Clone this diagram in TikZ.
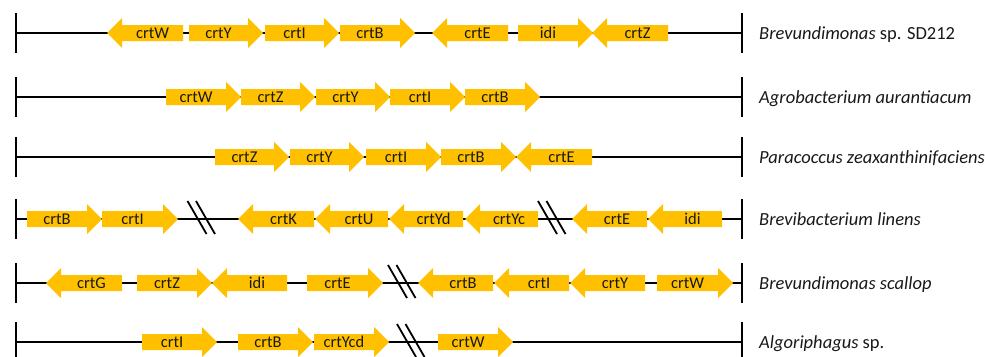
\documentclass[tikz,border=0pt]{standalone}
\usepackage{fontspec}
\setmainfont{Carlito}
\definecolor{genegold}{HTML}{FFC000}
\tikzset{
  backbone/.style={line width=2pt, black},
  endbar/.style={line width=2.5pt, black},
  brkline/.style={line width=1.8pt, black},
  genelabel/.style={font=\fontsize{16.5}{20}\selectfont, inner sep=0pt, anchor=base, text=black!90},
  species/.style={font=\fontsize{18.5}{22}\selectfont, inner sep=0pt, anchor=base west, text=black!90},
}
% right-pointing gene: name, tail x, tip x, y, label
\newcommand\geneR[5]{%
  \fill[genegold] (#2,#4-8) -- (#3-15,#4-8) -- (#3-15,#4-15) -- (#3,#4) -- (#3-15,#4+15) -- (#3-15,#4+8) -- (#2,#4+8) -- cycle;
  \node[genelabel] (#1) at ({(#2+#3-15)/2},{#4+5.5}) {#5};}
% left-pointing gene: name, tip x, tail x, y, label
\newcommand\geneL[5]{%
  \fill[genegold] (#3,#4-8) -- (#2+15,#4-8) -- (#2+15,#4-15) -- (#2,#4) -- (#2+15,#4+15) -- (#2+15,#4+8) -- (#3,#4+8) -- cycle;
  \node[genelabel] (#1) at ({(#2+15+#3)/2},{#4+5.5}) {#5};}
% chromosome line: name, y, species label
\newcommand\chrom[3]{%
  \coordinate (#1L) at (16,#2);
  \coordinate (#1R) at (742,#2);
  \draw[backbone] (#1L) -- (#1R);
  \draw[endbar] (16,#2-20) -- (16,#2+19.5);
  \draw[endbar] (742,#2-20) -- (742,#2+19.5);
  \node[species] (#1S) at (759,{#2+6}) {#3};}
% break mark: name, x, y
\newcommand\brk[3]{%
  \coordinate (#1) at (#2,#3);
  \draw[brkline] (#2-14,#3-18) -- (#2+5,#3+15);
  \draw[brkline] (#2-5.5,#3-18) -- (#2+13.5,#3+15);}
\begin{document}
\begin{tikzpicture}[x=1pt,y=-1pt]
\useasboundingbox (0,0) rectangle (985,356);
\clip (0,0) rectangle (985,356);
\fill[white] (0,0) rectangle (985,356);
% Row 1
\chrom{a}{33}{\textit{Brevundimonas} sp. SD212}
\geneL{aW}{107}{183}{33}{crtW}
\geneR{aY}{189}{263}{33}{crtY}
\geneR{aI}{265}{339}{33}{crtI}
\geneR{aB}{340}{415}{33}{crtB}
\geneL{aE}{432}{508}{33}{crtE}
\geneR{aidi}{518}{593}{33}{idi}
\geneL{aZ}{592}{668}{33}{crtZ}
% Row 2
\chrom{b}{97}{\textit{Agrobacterium aurantiacum}}
\geneR{bW}{166}{241}{97}{crtW}
\geneR{bZ}{241}{315}{97}{crtZ}
\geneR{bY}{316}{390}{97}{crtY}
\geneR{bI}{390}{465}{97}{crtI}
\geneR{bB}{465}{540}{97}{crtB}
% Row 3
\chrom{c}{157}{\textit{Paracoccus zeaxanthinifaciens}}
\geneR{cZ}{215}{289}{157}{crtZ}
\geneR{cY}{290}{364}{157}{crtY}
\geneR{cI}{366}{441}{157}{crtI}
\geneR{cB}{441}{516}{157}{crtB}
\geneL{cE}{516}{592}{157}{crtE}
% Row 4
\chrom{d}{219}{\textit{Brevibacterium linens}}
\geneR{dB}{27}{102}{219}{crtB}
\geneR{dI}{102}{178}{219}{crtI}
\geneL{dK}{238}{314}{219}{crtK}
\geneL{dU}{315}{388}{219}{crtU}
\geneL{dYd}{389}{463}{219}{crtYd}
\geneL{dYc}{465}{538}{219}{crtYc}
\geneL{dE}{572}{647}{219}{crtE}
\geneL{didi}{648}{722}{219}{idi}
\brk{dbrk1}{201.5}{219}
\brk{dbrk2}{552}{219}
% Row 5
\chrom{e}{283}{\textit{Brevundimonas scallop}}
\geneL{eG}{46}{122}{283}{crtG}
\geneR{eZ}{137}{212}{283}{crtZ}
\geneL{eidi}{212}{287}{283}{idi}
\geneR{eE}{307}{383}{283}{crtE}
\geneL{eB}{418}{493}{283}{crtB}
\geneL{eI}{494}{569}{283}{crtI}
\geneL{eY}{570}{645}{283}{crtY}
\geneR{eW}{657}{733}{283}{crtW}
\brk{ebrk}{402}{283}
% Row 6
\chrom{f}{342}{\textit{Algoriphagus} sp.}
\geneR{fI}{142}{217}{342}{crtI}
\geneR{fB}{238}{313}{342}{crtB}
\geneR{fYcd}{314}{389}{342}{crtYcd}
\geneR{fW}{438}{513}{342}{crtW}
\brk{fbrk}{411}{342}
\end{tikzpicture}
\end{document}
